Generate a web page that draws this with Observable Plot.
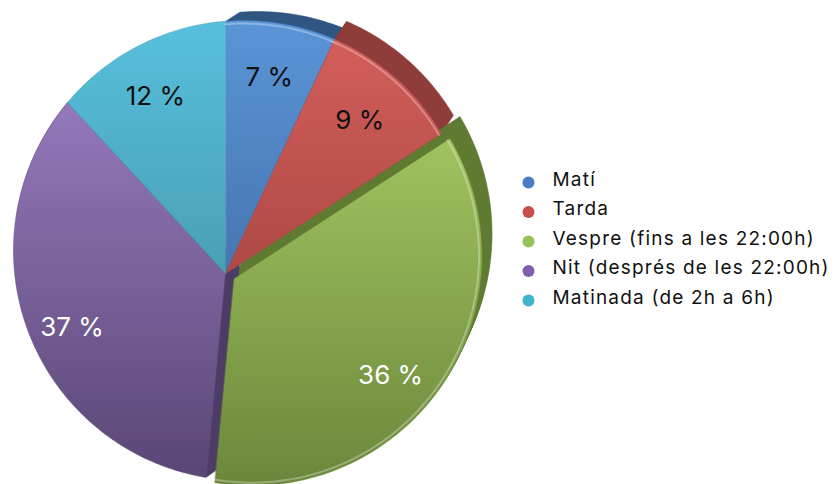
<!DOCTYPE html>
<html><head><meta charset="utf-8">
<script src="https://cdn.jsdelivr.net/npm/d3@7"></script>
<script src="https://cdn.jsdelivr.net/npm/@observablehq/plot@0.6"></script>
<style>body{margin:0;background:#fff;} #chart svg{display:block;}</style>
</head><body><div id="chart"></div>
<script>
// ---- data ----
const categories = ["Matí", "Tarda", "Vespre (fins a les 22:00h)", "Nit (després de les 22:00h)", "Matinada (de 2h a 6h)"];
const shares = [7, 9, 36, 37, 12];
const shareLabels = ["7 %", "9 %", "36 %", "37 %", "12 %"];

// ---- style ----
const faceTop    = ["#5a95d8", "#d35e5a", "#a0c35e", "#9479bb", "#57c0dd"];
const faceBottom = ["#4775b0", "#ad4946", "#6c873c", "#5a4675", "#4a9fb4"];
const sideColors = ["#2f5681", "#8e3d3b", "#5f7a31", "#4d3c66", "#2e7f93"];
const dotColors  = ["#4a7ec4", "#c84f4e", "#96c25a", "#7f5fab", "#3fb2cc"];
const labelInk   = ["#111", "#111", "#fff", "#fff", "#111"];
const explodeBy  = {"Vespre (fins a les 22:00h)": 10};
const sideShift  = {
  "Matí": [14, -9],
  "Tarda": [12, -18],
  "Vespre (fins a les 22:00h)": [10, -22],
  "Nit (després de les 22:00h)": [14, -10]
};
const rimLight   = new Set(["Matí", "Tarda", "Vespre (fins a les 22:00h)"]);

const W = 839, H = 484;
const apex = [225, 273], center = [243, 250], R = 230;

function rayLen(theta) {
  const dx = Math.sin(theta), dy = -Math.cos(theta);
  const ax = apex[0] - center[0], ay = apex[1] - center[1];
  const b = dx * ax + dy * ay;
  return -b + Math.sqrt(b * b - (ax * ax + ay * ay) + R * R);
}
function rim(theta, inset = 0) {
  const t = rayLen(theta) - inset;
  return [apex[0] + t * Math.sin(theta), apex[1] - t * Math.cos(theta)];
}

const total = d3.sum(shares);
const faceRows = [], sideRows = [], rimRows = [], labelRows = [], legendRows = [];
let cum = 0;
categories.forEach((c, i) => {
  const a0 = cum / total * 2 * Math.PI;
  cum += shares[i];
  const a1 = cum / total * 2 * Math.PI;
  const mid = (a0 + a1) / 2;
  const e = explodeBy[c] || 0;
  const ox = e * Math.sin(mid), oy = -e * Math.cos(mid);
  const pts = [[apex[0] + ox, apex[1] + oy]];
  const n = Math.max(8, Math.ceil((a1 - a0) / (Math.PI / 180)));
  for (let k = 0; k <= n; k++) {
    const p = rim(a0 + (a1 - a0) * k / n);
    pts.push([p[0] + ox, p[1] + oy]);
  }
  pts.forEach(p => faceRows.push({key: c, x: p[0], y: p[1], fill: `url(#face${i})`, stroke: faceBottom[i]}));
  const sh = sideShift[c];
  if (sh) {
    const steps = 12;
    for (let s = 1; s <= steps; s++) {
      pts.forEach(p => sideRows.push({key: c + s, x: p[0] + sh[0] * s / steps, y: p[1] + sh[1] * s / steps, fill: sideColors[i]}));
    }
  }
  if (rimLight.has(c)) {
    for (let k = 0; k <= n; k++) {
      const p = rim(a0 + (a1 - a0) * k / n, 3);
      rimRows.push({key: c, x: p[0] + ox, y: p[1] + oy});
    }
  }
  const lt = rayLen(mid) * 0.79;
  labelRows.push({x: apex[0] + ox + lt * Math.sin(mid), y: apex[1] + oy - lt * Math.cos(mid), text: shareLabels[i], ink: labelInk[i]});
  legendRows.push({i, text: c, color: dotColors[i]});
});

const legendX = 528, legendY0 = 182, legendStep = 29.5;

const plot = Plot.plot({
  width: W, height: H,
  margin: 0,
  x: {domain: [0, W], range: [0, W], axis: null},
  y: {domain: [0, H], range: [0, H], axis: null},
  color: {type: "identity"},
  style: {fontFamily: "Inter, 'DejaVu Sans', sans-serif", background: "#fff"},
  marks: [
    Plot.line(sideRows, {x: "x", y: "y", z: "key", fill: "fill", stroke: "fill", strokeWidth: 0.5, curve: "linear-closed"}),
    Plot.line(faceRows, {x: "x", y: "y", z: "key", fill: "fill", stroke: "stroke", strokeWidth: 0.8, strokeOpacity: 0.6, curve: "linear-closed"}),
    Plot.line(rimRows, {x: "x", y: "y", z: "key", stroke: "#ffffff", strokeOpacity: 0.3, strokeWidth: 2}),
    Plot.text(labelRows, {x: "x", y: "y", text: "text", fill: "ink", fontSize: 26, textAnchor: "middle", dy: 2}),
    Plot.dot(legendRows, {x: () => legendX, y: d => legendY0 + d.i * legendStep, r: 6, fill: "color", stroke: null}),
    Plot.text(legendRows, {x: () => legendX + 24, y: d => legendY0 + d.i * legendStep - 3, text: "text", textAnchor: "start", fontSize: 19, fill: "#111"})
  ]
});

plot.querySelectorAll("text").forEach(t => {
  if (t.textContent && categories.includes(t.textContent)) t.setAttribute("letter-spacing", "1.2");
});

// gradients for faces
const ns = "http://www.w3.org/2000/svg";
const defs = document.createElementNS(ns, "defs");
faceTop.forEach((top, i) => {
  const g = document.createElementNS(ns, "linearGradient");
  g.setAttribute("id", `face${i}`);
  g.setAttribute("x1", "0"); g.setAttribute("y1", "0"); g.setAttribute("x2", "0"); g.setAttribute("y2", "1");
  [[0, top], [1, faceBottom[i]]].forEach(([o, col]) => {
    const s = document.createElementNS(ns, "stop");
    s.setAttribute("offset", o); s.setAttribute("stop-color", col);
    g.appendChild(s);
  });
  defs.appendChild(g);
});
plot.insertBefore(defs, plot.firstChild);
document.getElementById("chart").appendChild(plot);
</script>
</body></html>
